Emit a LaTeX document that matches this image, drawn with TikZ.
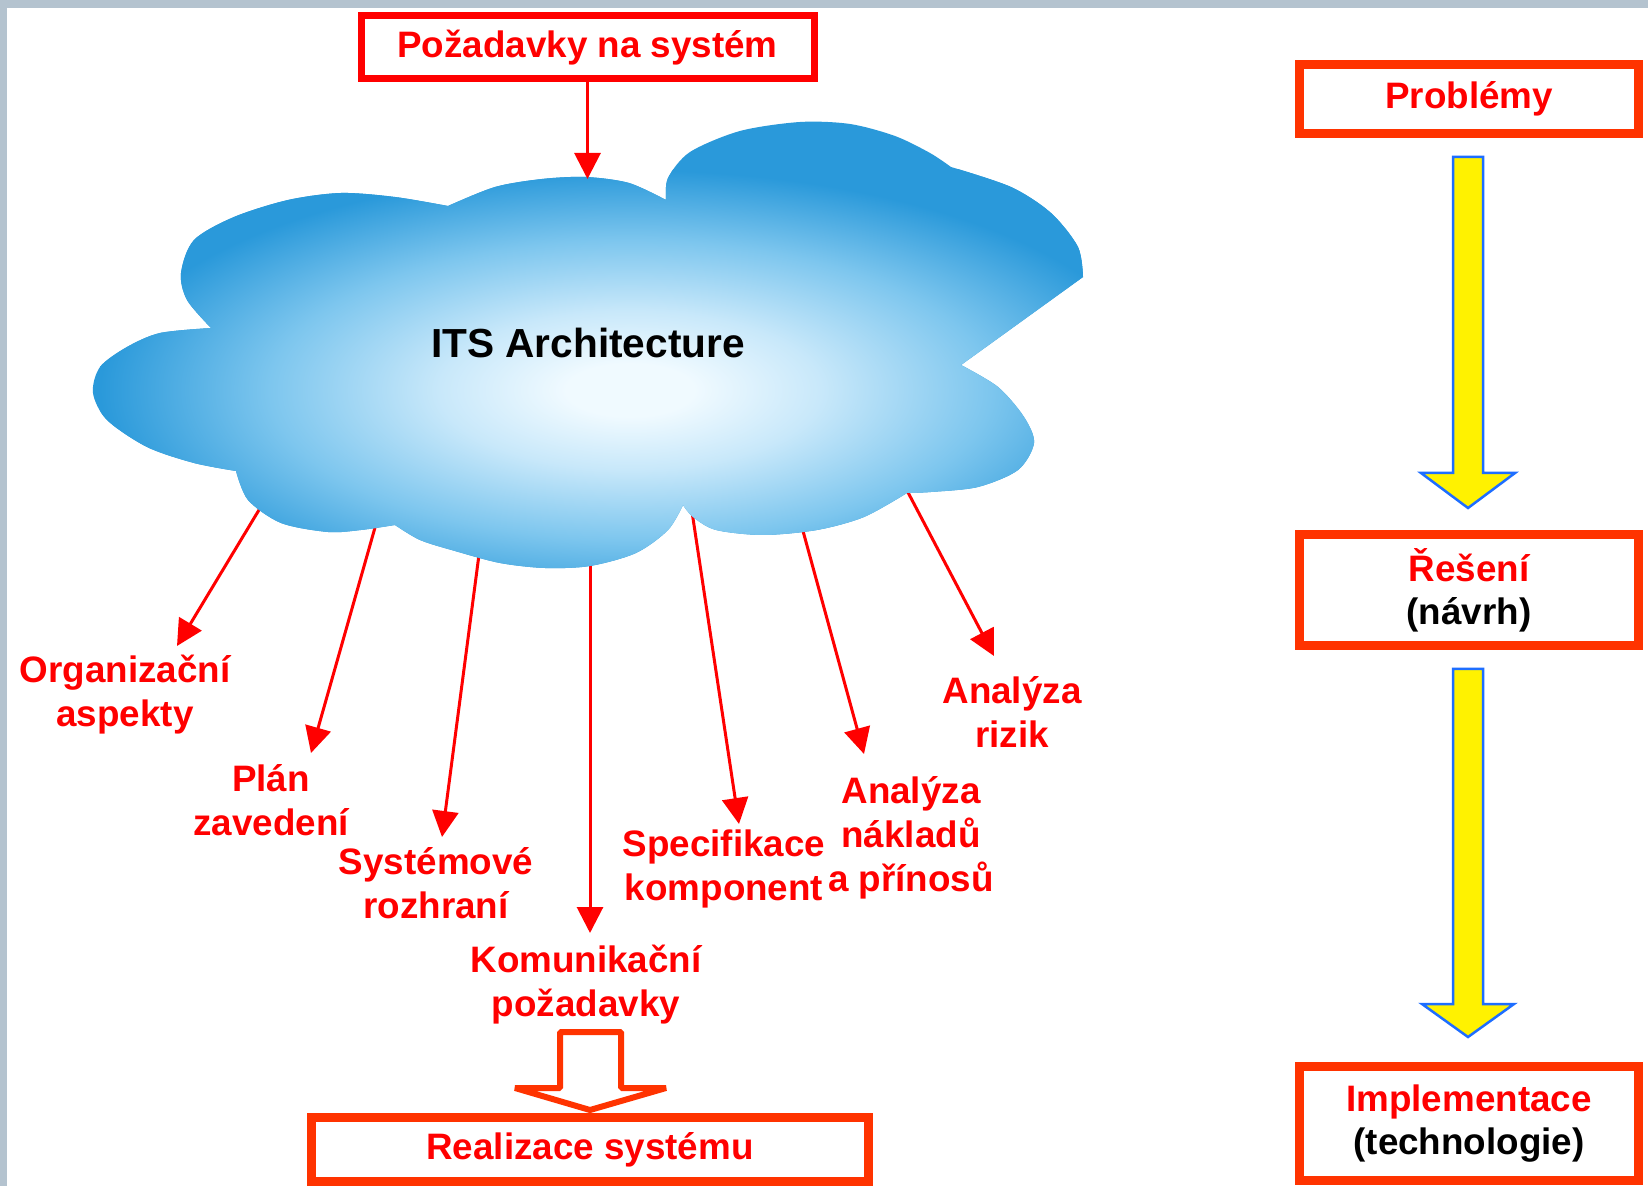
\documentclass[tikz,border=0pt]{standalone}
\usepackage{fontspec}
\setmainfont{Liberation Sans}
\usetikzlibrary{arrows.meta}

\definecolor{txtred}{RGB}{255,0,0}
\definecolor{boxred}{RGB}{255,51,0}
\definecolor{framegray}{RGB}{180,195,207}
\definecolor{cloudC}{RGB}{240,250,255}
\definecolor{cloudL}{RGB}{200,232,250}
\definecolor{cloudM}{RGB}{125,198,238}
\definecolor{cloudE}{RGB}{42,153,218}
\definecolor{arrowblue}{RGB}{30,110,255}
% the inner 50bp square of the shading is fitted to the shaded rectangle
\pgfdeclareradialshading{cloudfill}{\pgfpoint{0bp}{0bp}}{color(0bp)=(cloudC); color(3bp)=(cloudC); color(9bp)=(cloudL); color(17bp)=(cloudM); color(25bp)=(cloudE); color(50bp)=(cloudE)}

% outline of the cloud, lobe by lobe (sharp notches between lobes)
\def\cloudpath{(211,328)
  -- plot[smooth] coordinates {(211,328) (187,300) (181,273) (194,240) (234,217) (288,200) (341,193) (395,197) (448,206)}
  -- plot[smooth] coordinates {(448,206) (495,187) (542,179) (586,177) (629,183) (666,200)}
  -- plot[smooth] coordinates {(666,200) (668,178) (690,152) (740,131) (800,122) (850,124) (895,136) (930,153) (951,167)}
  -- plot[smooth] coordinates {(951,167) (1011,187) (1051,213) (1078,247) (1083,277)}
  -- (961,365)
  -- plot[smooth] coordinates {(961,365) (998,387) (1024,417) (1034,443) (1018,470) (978,487) (931,492) (907,493)}
  -- plot[smooth] coordinates {(907,493) (864,517) (817,530) (763,535) (716,530) (693,517) (683,505)}
  -- plot[smooth] coordinates {(683,505) (668,530) (636,553) (590,566) (545,568) (500,563) (455,551) (420,540) (395,525)}
  -- plot[smooth] coordinates {(395,525) (361,530) (328,532) (281,523) (248,500) (236,471)}
  -- plot[smooth] coordinates {(236,471) (194,463) (147,447) (107,420) (93,393) (100,367) (127,347) (160,333) (211,328)}
  -- cycle}

\begin{document}
\begin{tikzpicture}[x=0.5pt,y=-0.5pt,
  lbl/.style={text=txtred, font=\fontsize{18.4}{22}\selectfont\bfseries, align=center, inner sep=0pt},
  boxtext/.style={font=\fontsize{18.4}{21.5}\selectfont\bfseries, align=center, inner sep=0pt},
  redbox/.style={boxtext, draw=boxred, line width=4.5pt, fill=white, minimum width=169.5pt},
  ray/.style={draw=txtred, line width=1.5pt, -{Triangle[length=13pt,width=13pt]}},
  yellowarrow/.style={draw=arrowblue, line width=1.25pt, fill=yellow, line join=miter},
  hollowarrow/.style={draw=boxred, line width=3pt, fill=white, line join=bevel}
]
\useasboundingbox (0,0) rectangle (1648,1186);
\fill[white] (0,0) rectangle (1648,1186);
% frame strips
\fill[framegray] (0,0) rectangle (1648,8);
\fill[framegray] (0,0) rectangle (7,1186);

% start and end points of the rays leaving the cloud
\coordinate (s1) at (268,495);  \coordinate (e1) at (177,646);
\coordinate (s2) at (378,517);  \coordinate (e2) at (311,753);
\coordinate (s3) at (480,547);  \coordinate (e3) at (442,837);
\coordinate (s4) at (590,547);  \coordinate (e4) at (590,933);
\coordinate (s5) at (691,505);  \coordinate (e5) at (739,824);
\coordinate (s6) at (800,520);  \coordinate (e6) at (864,754);
\coordinate (s7) at (902,481);  \coordinate (e7) at (994,656);

\draw[ray] (s1) -- (e1);
\draw[ray] (s2) -- (e2);
\draw[ray] (s3) -- (e3);
\draw[ray] (s4) -- (e4);
\draw[ray] (s5) -- (e5);
\draw[ray] (s6) -- (e6);
\draw[ray] (s7) -- (e7);

% the cloud
\fill[cloudE] \cloudpath;
\begin{scope}
  \clip \cloudpath;
  \shade[shading=cloudfill] (100,170) rectangle (1160,610);
\end{scope}
\node[font=\fontsize{20.3}{24}\selectfont\bfseries, inner sep=0pt] (its) at (588,343) {ITS Architecture};

% requirements box and its arrow into the cloud
\node[boxtext, text=txtred, draw=txtred, line width=3.5pt, fill=white,
      minimum width=226.5pt, minimum height=31.5pt] (req) at (587.5,47.5) {Požadavky na systém};
\coordinate (cloudtop) at (587.5,179);
\draw[ray] (req.south) -- (cloudtop);

% labels at the ray ends
\node[lbl] (org)  at (125,695)  {Organizační\\aspekty};
\node[lbl] (plan) at (271,800)  {Plán\\zavedení};
\node[lbl] (sys)  at (436,883)  {Systémové\\rozhraní};
\node[lbl] (kom)  at (586,985)  {Komunikační\\požadavky};
\node[lbl] (spec) at (724,869)  {Specifikace\\komponent};
\node[lbl] (nak)  at (911,838)  {Analýza\\nákladů\\a přínosů};
\node[lbl] (riz)  at (1012,712) {Analýza\\rizik};

% realisation box with the hollow arrow above it
\node[redbox, text=txtred, minimum width=278.5pt, minimum height=32pt] (real) at (590,1149.5) {Realizace systému};
\draw[hollowarrow] (560,1032) -- (621,1032) -- (621,1088) -- (666,1088) -- (590,1110)
  -- (515,1088) -- (560,1088) -- cycle;

% right column: problems -> solution -> implementation
\node[redbox, text=txtred, minimum height=34.5pt] (prob) at (1469,99) {Problémy};
\node[redbox, minimum height=55.5pt] (sol) at (1469,590) {\textcolor{txtred}{Řešení}\\(návrh)};
\node[redbox, minimum height=57pt] (impl) at (1469,1123.5) {\textcolor{txtred}{Implementace}\\(technologie)};

\draw[yellowarrow] (1453,157) -- (1483,157) -- (1483,473) -- (1515,473) -- (1468,508)
  -- (1421,473) -- (1453,473) -- cycle;
\draw[yellowarrow] (1453,669) -- (1483,669) -- (1483,1004) -- (1514,1004) -- (1468,1037)
  -- (1422,1004) -- (1453,1004) -- cycle;
\end{tikzpicture}
\end{document}
